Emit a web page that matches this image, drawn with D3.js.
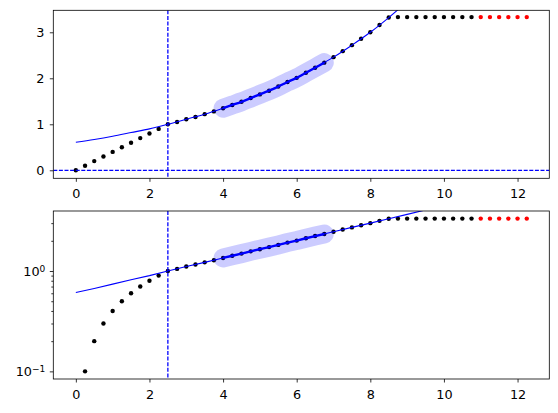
<!DOCTYPE html>
<html>
<head>
<meta charset="utf-8">
<script src="https://cdn.jsdelivr.net/npm/d3@7"></script>
<style>
  body { margin: 0; background: #fff; }
  svg { display: block; }
  .tick text { font-family: "DejaVu Sans", sans-serif; font-size: 12.8px; fill: #000; }
  .domain { display: none; }
</style>
</head>
<body>
<div id="chart"></div>
<script>
// sample positions
const xValues = [0, 0.25, 0.5, 0.75, 1, 1.25, 1.5, 1.75, 2, 2.25, 2.5, 2.75, 3, 3.25, 3.5, 3.75,
  4, 4.25, 4.5, 4.75, 5, 5.25, 5.5, 5.75, 6, 6.25, 6.5, 6.75, 7, 7.25, 7.5, 7.75,
  8, 8.25, 8.5, 8.75, 9, 9.25, 9.5, 9.75, 10, 10.25, 10.5, 10.75,
  11, 11.25, 11.5, 11.75, 12, 12.25];
// measured values (from x=11 on they are drawn red)
const yValues = [0, 0.1, 0.2, 0.3, 0.4, 0.5, 0.6, 0.7, 0.8, 0.9, 1.0, 1.05, 1.11, 1.16, 1.22, 1.28,
  1.35, 1.42, 1.49, 1.57, 1.65, 1.73, 1.82, 1.92, 2.01, 2.12, 2.23, 2.34, 2.46, 2.59, 2.72, 2.86,
  3.0, 3.16, 3.32, 3.33, 3.33, 3.33, 3.33, 3.33, 3.33, 3.33, 3.33, 3.33,
  3.33, 3.33, 3.33, 3.33, 3.33, 3.33];
const redFrom = 11;

// fitted curve
const fitX = [0, 0.5, 1, 1.5, 2, 2.5, 3, 3.5, 4, 4.5, 5, 5.5, 6, 6.5, 7, 7.5, 8, 8.5, 9, 9.5, 10];
const fitY = [0.61, 0.67, 0.74, 0.82, 0.90, 1.0, 1.11, 1.22, 1.35, 1.49, 1.65, 1.82, 2.01, 2.23,
  2.46, 2.72, 3.0, 3.32, 3.67, 4.06, 4.48];

const fitRange = [4, 6.75];   // highlighted window
const markX = 2.5;            // vertical marker
const markY = 0;              // horizontal marker (linear axes only)

const xTicks = [0, 2, 4, 6, 8, 10, 12];
const yTicksLin = [0, 1, 2, 3];
const yTicksLog = [0.1, 1];
const yMinorLog = [0.2, 0.3, 0.4, 0.5, 0.6, 0.7, 0.8, 0.9, 2, 3];

const W = 558, H = 413;
const left = 53.3, right = 549.3;
const panels = [
  {top: 10.3, bottom: 178.3, log: false},
  {top: 211, bottom: 379, log: true}
];

const svg = d3.select("#chart").append("svg")
  .attr("width", W).attr("height", H);

const points = xValues.map((x, i) => ({x: x, y: yValues[i]}));
const fitPts = fitX.map((x, i) => ({x: x, y: fitY[i]}));
const bandPts = points.filter(d => d.x >= fitRange[0] && d.x <= fitRange[1]);

const x = d3.scaleLinear().domain([-0.6125, 12.8625]).range([left, right]);

panels.forEach((p, k) => {
  const y = p.log
    ? d3.scaleLog().domain([Math.pow(10, -1.076), Math.pow(10, 0.598)]).range([p.bottom, p.top])
    : d3.scaleLinear().domain([-0.174, 3.478]).range([p.bottom, p.top]);

  const g = svg.append("g");
  const clipId = "clip" + k;
  svg.append("clipPath").attr("id", clipId)
    .append("rect")
    .attr("x", left).attr("y", p.top)
    .attr("width", right - left).attr("height", p.bottom - p.top);

  const plot = g.append("g").attr("clip-path", "url(#" + clipId + ")");
  const ok = d => !p.log || d.y > 0;

  const line = d3.line()
    .defined(ok)
    .x(d => x(d.x)).y(d => y(d.y))
    .curve(p.log ? d3.curveLinear : d3.curveMonotoneX);

  // points
  plot.selectAll("circle.pt")
    .data(points.filter(ok))
    .join("circle")
    .attr("class", "pt")
    .attr("cx", d => x(d.x)).attr("cy", d => y(d.y))
    .attr("r", 2.2)
    .attr("fill", d => d.x >= redFrom ? "#ff0000" : "#000000");

  // highlight band
  plot.append("path").datum(bandPts)
    .attr("d", line)
    .attr("fill", "none")
    .attr("stroke", "#0000ff")
    .attr("stroke-opacity", 0.2)
    .attr("stroke-width", 19)
    .attr("stroke-linecap", "round")
    .attr("stroke-linejoin", "round");

  // marker lines
  plot.append("line")
    .attr("x1", x(markX)).attr("x2", x(markX))
    .attr("y1", p.top).attr("y2", p.bottom)
    .attr("stroke", "#0000ff").attr("stroke-width", 1.3)
    .attr("stroke-dasharray", "4,1.6");
  if (!p.log) {
    plot.append("line")
      .attr("x1", left).attr("x2", right)
      .attr("y1", y(markY)).attr("y2", y(markY))
      .attr("stroke", "#0000ff").attr("stroke-width", 1.3)
      .attr("stroke-dasharray", "4,1.6");
  }

  // fitted curve
  plot.append("path").datum(fitPts)
    .attr("d", line)
    .attr("fill", "none")
    .attr("stroke", "#0000ff")
    .attr("stroke-width", 1.1);

  // thick segment over the window
  plot.append("path").datum(bandPts)
    .attr("d", line)
    .attr("fill", "none")
    .attr("stroke", "#0000ff")
    .attr("stroke-width", 2.4);

  // axes
  const xAxis = d3.axisBottom(x).tickValues(xTicks).tickSize(3.5).tickPadding(7.3)
    .tickFormat(d3.format("d"));
  g.append("g").attr("transform", "translate(0," + p.bottom + ")").call(xAxis);

  if (p.log) {
    const yMinor = d3.axisLeft(y).tickValues(yMinorLog).tickSize(2).tickFormat("");
    g.append("g").attr("transform", "translate(" + left + ",0)").call(yMinor);
    const yAxis = d3.axisLeft(y).tickValues(yTicksLog).tickSize(3.5).tickFormat("");
    const ya = g.append("g").attr("transform", "translate(" + left + ",0)").call(yAxis);
    ya.selectAll(".tick").append("text")
      .attr("x", -8).attr("dy", "0.32em")
      .attr("text-anchor", "end")
      .each(function(d) {
        const t = d3.select(this);
        t.append("tspan").text("10");
        t.append("tspan").attr("dy", "-0.45em").attr("font-size", "9px")
          .text(d === 1 ? "0" : "\u22121");
      });
  } else {
    const yAxis = d3.axisLeft(y).tickValues(yTicksLin).tickSize(3.5).tickPadding(5.5)
      .tickFormat(d3.format("d"));
    g.append("g").attr("transform", "translate(" + left + ",0)").call(yAxis);
  }
  g.selectAll(".tick line").attr("stroke", "#000").attr("stroke-width", 0.8);

  g.append("rect")
    .attr("x", left).attr("y", p.top)
    .attr("width", right - left).attr("height", p.bottom - p.top)
    .attr("fill", "none").attr("stroke", "#000").attr("stroke-width", 0.8);
});
</script>
</body>
</html>
